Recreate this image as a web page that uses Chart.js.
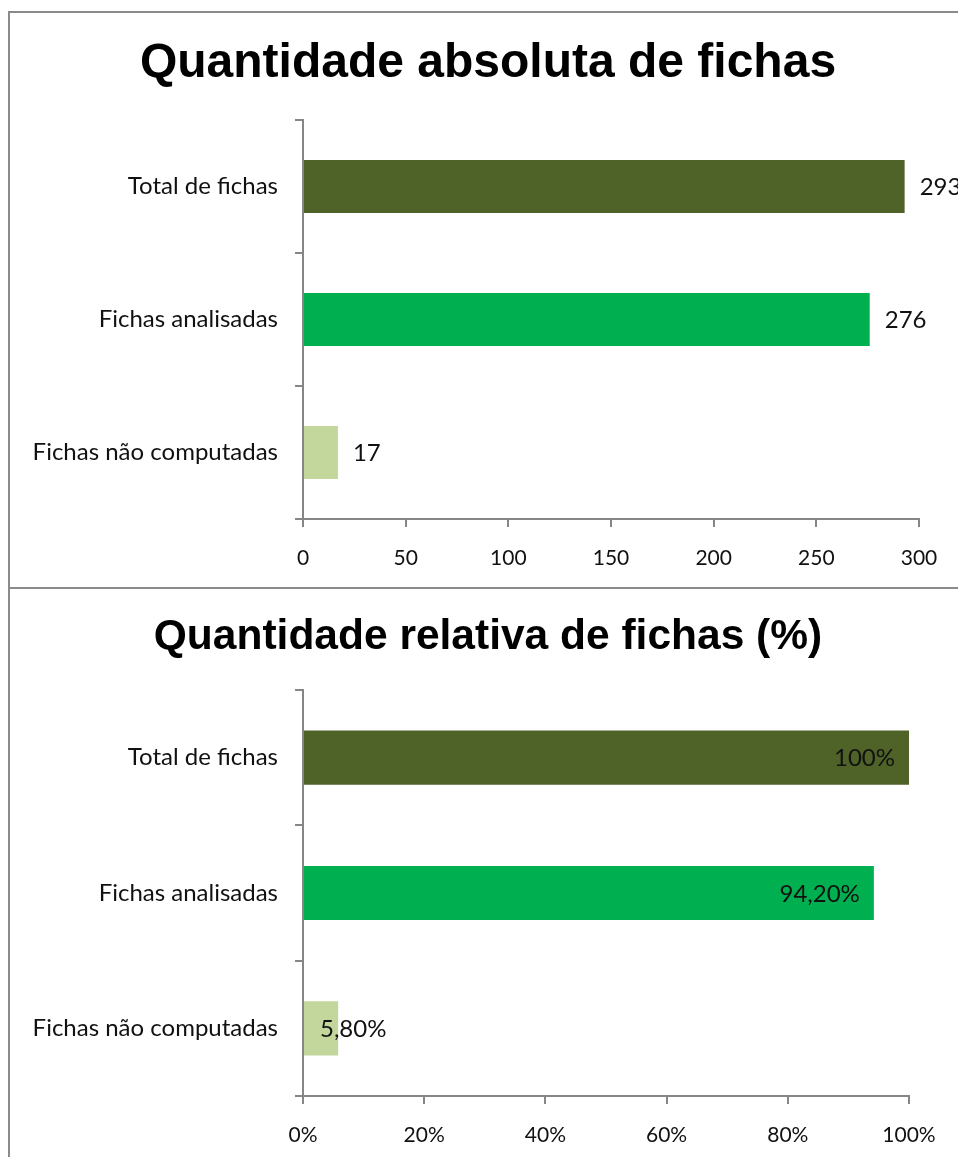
<!DOCTYPE html>
<html>
<head>
<meta charset="utf-8">
<script src="https://cdn.jsdelivr.net/npm/chart.js@4/dist/chart.umd.min.js"></script>
<style>
  html, body { margin: 0; padding: 0; background: #ffffff; }
  body { width: 958px; height: 1157px; position: relative; overflow: hidden; }
  .box { position: absolute; }
  .line { position: absolute; background: #8a8a8a; }
</style>
</head>
<body>
<div class="line" style="left:8px; top:11px; width:950px; height:2px;"></div>
<div class="line" style="left:8px; top:11px; width:2px; height:1146px;"></div>
<div class="line" style="left:8px; top:587px; width:950px; height:2px;"></div>
<div class="box" style="left:0; top:0; width:958px; height:588px;"><canvas id="c1" width="958" height="588"></canvas></div>
<div class="box" style="left:0; top:588px; width:958px; height:569px;"><canvas id="c2" width="958" height="569"></canvas></div>
<script>
// ---- data ----
const categories = ["Total de fichas", "Fichas analisadas", "Fichas não computadas"];
const absoluteValues = [293, 276, 17];
const relativeValues = [100, 94.2, 5.8];
const relativeLabels = ["100%", "94,20%", "5,80%"];
const absTicks = [0, 50, 100, 150, 200, 250, 300];
const relTickLabels = ["0%", "20%", "40%", "60%", "80%", "100%"];
const barColors = ["#4F6228", "#00B050", "#C3D69B"];
const titles = ["Quantidade absoluta de fichas", "Quantidade relativa de fichas (%)"];

const FONT = "Lato, 'Open Sans', sans-serif";
const AXIS = "#868686";

function labelPlugin(mode, texts) {
  return {
    id: 'valLabels_' + mode,
    afterDatasetsDraw(chart) {
      const ctx = chart.ctx;
      const meta = chart.getDatasetMeta(0);
      ctx.save();
      ctx.font = "24px " + FONT;
      ctx.fillStyle = "#111111";
      ctx.textBaseline = "middle";
      meta.data.forEach((el, i) => {
        const t = texts[i];
        ctx.textAlign = "left";
        if (mode === 'outside') {
          ctx.fillText(t, el.x + 15, el.y + 1);
        } else {
          const w = ctx.measureText(t).width;
          let left = el.x - 14 - w;
          if (left < el.base + 16) left = el.base + 16;
          ctx.fillText(t, left, el.y + 1);
        }
      });
      ctx.restore();
    }
  };
}

function titlePlugin(text, size, cx, cy) {
  return {
    id: 'fixedTitle',
    afterDraw(chart) {
      const ctx = chart.ctx;
      ctx.save();
      ctx.font = "bold " + size + "px 'Liberation Sans', Arial, sans-serif";
      ctx.fillStyle = "#000000";
      ctx.textAlign = "center";
      ctx.textBaseline = "middle";
      ctx.fillText(text, cx, cy);
      ctx.restore();
    }
  };
}

function makeChart(id, values, cfg) {
  return new Chart(document.getElementById(id), {
    type: 'bar',
    data: {
      labels: categories,
      datasets: [{
        data: values,
        backgroundColor: barColors,
        borderWidth: 0,
        barPercentage: 0.8,
        categoryPercentage: 0.5
      }]
    },
    options: {
      indexAxis: 'y',
      responsive: false,
      animation: false,
      events: [],
      layout: { padding: { left: 0, right: cfg.padRight, top: cfg.padTop, bottom: 0 } },
      plugins: {
        legend: { display: false },
        tooltip: { enabled: false },
        title: { display: false }
      },
      scales: {
        y: {
          grid: { display: true, drawOnChartArea: false, drawTicks: true, tickLength: 8, color: AXIS, lineWidth: 2 },
          border: { display: true, color: AXIS, width: 2 },
          ticks: { color: '#111111', font: { family: FONT, size: 24 }, padding: 17 },
          afterFit(scale) { scale.width = 303; }
        },
        x: {
          min: 0,
          max: cfg.max,
          grid: { display: true, drawOnChartArea: false, drawTicks: true, tickLength: 8, color: AXIS, lineWidth: 2 },
          border: { display: true, color: AXIS, width: 2 },
          ticks: {
            stepSize: cfg.step,
            color: '#111111',
            font: { family: FONT, size: 21 },
            padding: 19,
            maxRotation: 0,
            callback: cfg.tickCb
          },
          afterFit(scale) { scale.height = cfg.xHeight; }
        }
      }
    },
    plugins: [labelPlugin(cfg.mode, cfg.labels), titlePlugin(cfg.title, cfg.titleSize, 488, cfg.titleY)]
  });
}

makeChart('c1', absoluteValues, {
  title: titles[0],
  titleSize: 48,
  titleY: 63.8,
  padTop: 120,
  padRight: 39,
  max: 300,
  step: 50,
  xHeight: 588 - 519,
  mode: 'outside',
  labels: absoluteValues.map(String),
  tickCb: (v, i) => String(absTicks[i])
});

makeChart('c2', relativeValues, {
  title: titles[1],
  titleSize: 42.5,
  titleY: 49,
  padTop: 102,
  padRight: 49,
  max: 100,
  step: 20,
  xHeight: 569 - 508,
  mode: 'inside',
  labels: relativeLabels,
  tickCb: (v, i) => relTickLabels[i]
});
</script>
</body>
</html>
